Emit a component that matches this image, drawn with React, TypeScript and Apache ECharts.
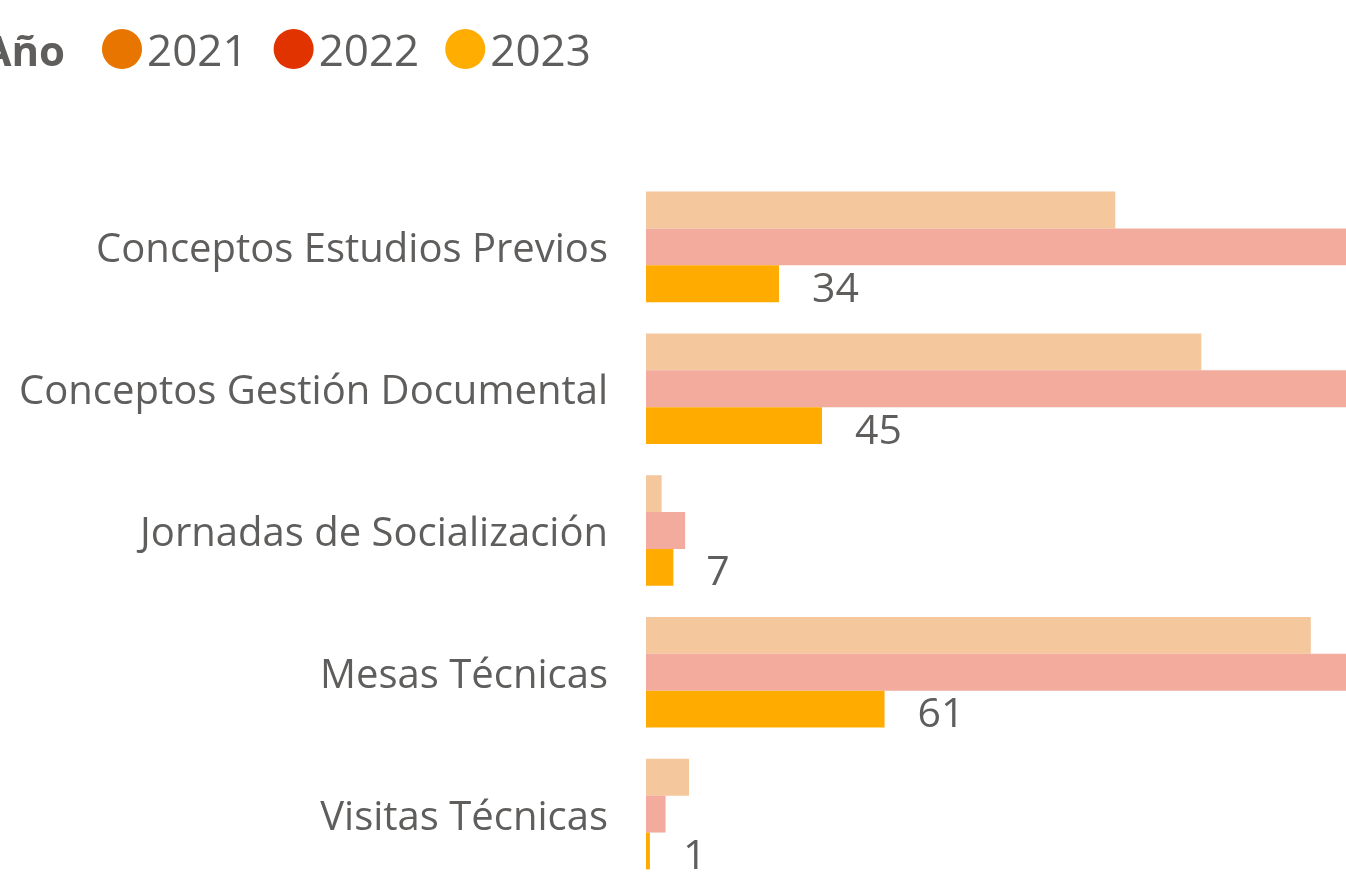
import React, { useEffect, useRef } from "react";
import * as echarts from "echarts";

const categories = [
  "Conceptos Estudios Previos",
  "Conceptos Gestión Documental",
  "Jornadas de Socialización",
  "Mesas Técnicas",
  "Visitas Técnicas",
];
const values2021 = [120, 142, 4, 170, 11];
const values2022 = [195, 200, 10, 205, 5];
const values2023 = [34, 45, 7, 61, 1];
const years = ["2021", "2022", "2023"];

const FONT = '"Segoe UI", "Open Sans", "Noto Sans", sans-serif';
const GRAY = "#605E5C";

export default function App() {
  const ref = useRef<HTMLDivElement>(null);
  useEffect(() => {
    document.body.style.margin = "0";
    const chart = echarts.init(ref.current!, null, { renderer: "svg" });
    chart.setOption({
      animation: false,
      textStyle: { fontFamily: FONT },
      graphic: [
        {
          type: "text",
          right: 1346 - 65,
          top: 28,
          style: {
            text: "Año",
            font: `bold 42px ${FONT}`,
            fill: GRAY,
            textAlign: "right",
          },
        },
      ],
      legend: {
        left: 102,
        top: 27,
        padding: 0,
        icon: "circle",
        itemWidth: 40,
        itemHeight: 40,
        itemGap: 26,
        selectedMode: false,
        textStyle: { fontSize: 44, color: GRAY, fontFamily: FONT, padding: [0, 0, 0, 0] },
        data: [
          { name: years[0], itemStyle: { color: "#E87500" } },
          { name: years[1], itemStyle: { color: "#E03300" } },
          { name: years[2], itemStyle: { color: "#FFAD00" } },
        ],
      },
      grid: { left: 646, right: 0, top: 176, bottom: 5, containLabel: false },
      xAxis: {
        type: "value",
        min: 0,
        max: 179,
        show: false,
      },
      yAxis: {
        type: "category",
        data: categories,
        inverse: true,
        axisLine: { show: false },
        axisTick: { show: false },
        axisLabel: { fontSize: 40, color: GRAY, margin: 38, fontFamily: FONT },
      },
      series: [
        {
          name: years[0],
          type: "bar",
          data: values2021,
          barGap: "0%",
          barCategoryGap: "22%",
          itemStyle: { color: "#F4C79D" },
          clip: true,
        },
        {
          name: years[1],
          type: "bar",
          data: values2022,
          barGap: "0%",
          barCategoryGap: "22%",
          itemStyle: { color: "#F2AB9C" },
          clip: true,
        },
        {
          name: years[2],
          type: "bar",
          data: values2023,
          barGap: "0%",
          barCategoryGap: "22%",
          itemStyle: { color: "#FFAB00" },
          clip: true,
          label: {
            show: true,
            position: "right",
            distance: 33,
            fontSize: 41,
            color: GRAY,
            fontFamily: FONT,
            offset: [0, 2],
          },
        },
      ],
    });
    return () => chart.dispose();
  }, []);
  return (
    <div
      ref={ref}
      style={{ position: "fixed", left: 0, top: 0, width: 1346, height: 890 }}
    />
  );
}
